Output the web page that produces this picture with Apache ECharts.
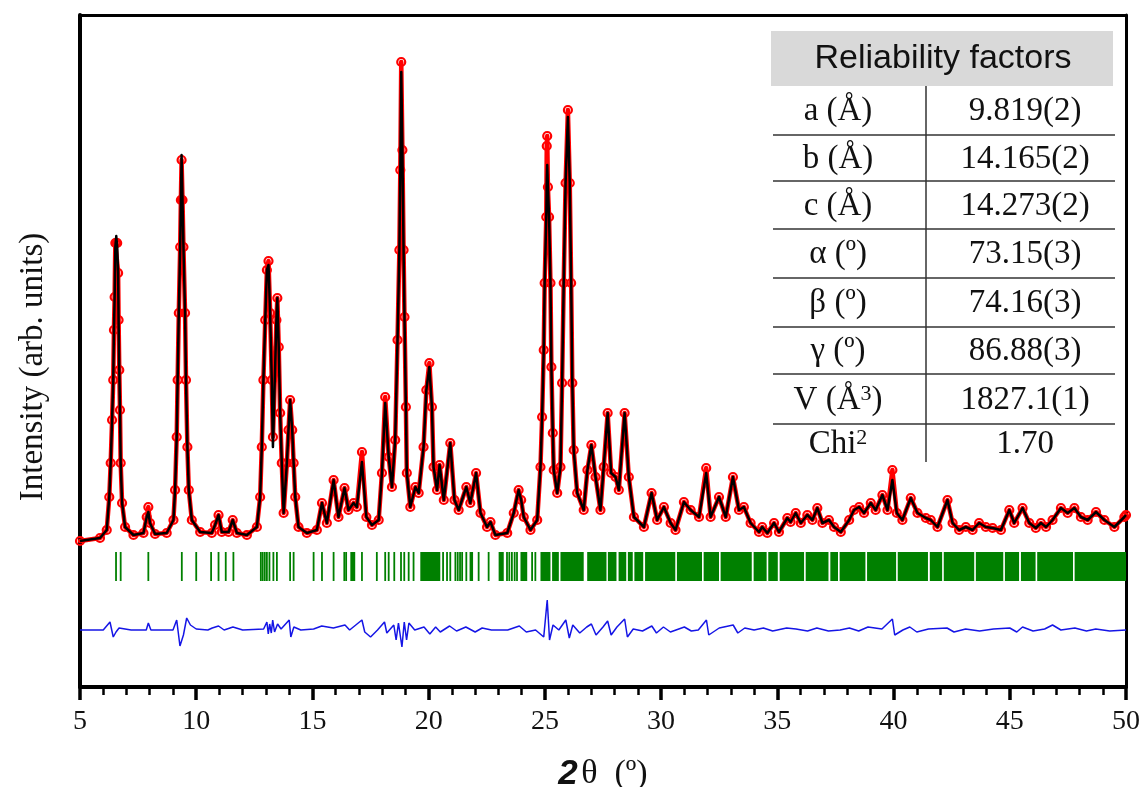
<!DOCTYPE html>
<html><head><meta charset="utf-8">
<script src="https://cdn.jsdelivr.net/npm/echarts@6/dist/echarts.min.js"></script>
<style>html,body{margin:0;padding:0;background:#fff}#c{width:1144px;height:787px}</style>
</head><body><div id="c"></div>
<script>
// ---- data (2theta in degrees, intensity in arb. units) ----
const twoTheta = [5.00,5.86,6.15,6.26,6.32,6.38,6.43,6.46,6.49,6.52,6.56,6.60,6.64,6.66,6.69,6.72,6.75,6.81,6.94,7.30,7.73,7.87,7.94,8.01,8.23,8.73,9.02,9.09,9.16,9.20,9.25,9.31,9.34,9.37,9.41,9.45,9.52,9.56,9.62,9.68,9.81,10.17,10.67,10.81,10.96,11.10,11.39,11.57,11.75,12.18,12.61,12.75,12.82,12.89,12.97,13.04,13.11,13.18,13.25,13.30,13.40,13.45,13.49,13.55,13.61,13.68,13.76,13.90,13.97,14.04,14.13,14.19,14.26,14.40,14.76,15.19,15.41,15.62,15.91,16.12,16.38,16.55,16.77,16.91,17.13,17.32,17.56,17.85,17.99,18.13,18.28,18.42,18.56,18.66,18.74,18.78,18.82,18.87,18.92,18.96,19.02,19.06,19.21,19.43,19.57,19.78,19.90,20.03,20.14,20.21,20.36,20.47,20.65,20.93,21.11,21.29,21.62,21.79,22.04,22.23,22.51,22.66,22.87,23.38,23.66,23.87,23.98,24.09,24.38,24.67,24.81,24.88,24.95,24.99,25.06,25.08,25.10,25.13,25.18,25.24,25.28,25.34,25.38,25.53,25.67,25.74,25.81,25.89,25.99,26.07,26.13,26.18,26.24,26.39,26.67,26.83,27.00,27.18,27.39,27.53,27.70,27.85,28.04,28.18,28.43,28.61,28.83,29.26,29.59,29.83,30.12,30.41,30.62,30.98,31.27,31.63,31.94,32.13,32.49,32.78,33.09,33.35,33.56,33.85,34.21,34.35,34.57,34.86,35.07,35.43,35.57,35.79,36.01,36.29,36.51,36.72,36.94,37.22,37.44,37.73,38.09,38.30,38.52,38.73,39.02,39.23,39.52,39.74,39.95,40.14,40.38,40.74,41.03,41.39,41.60,41.89,42.32,42.54,42.82,43.11,43.40,43.68,43.97,44.26,44.62,44.98,45.19,45.55,45.84,46.12,46.34,46.56,46.84,47.20,47.49,47.78,48.06,48.35,48.71,49.07,49.50,49.93,50.00];
const yObs = [146,149,157,190,224,267,307,357,390,444,444,444,414,367,317,277,224,184,160,152,154,170,180,164,153,154,167,197,250,307,374,440,487,527,487,440,374,307,240,197,167,155,154,162,172,155,155,167,154,152,160,190,240,307,367,417,426,374,307,250,324,367,389,340,274,224,174,224,257,287,257,224,190,160,154,157,184,164,207,170,199,177,184,180,235,170,162,167,214,290,230,200,247,347,437,517,625,537,437,370,280,214,180,200,194,240,297,324,280,220,197,222,187,244,187,177,200,184,214,174,160,165,152,154,174,197,187,170,157,167,220,270,337,404,470,541,551,500,470,404,320,254,217,194,220,304,404,504,577,504,404,304,237,194,177,217,242,210,177,220,274,214,210,197,274,210,170,160,194,167,180,164,157,185,177,170,219,170,190,170,210,177,180,164,155,160,154,164,155,169,165,174,164,172,167,179,164,167,160,155,167,177,180,174,184,177,192,177,217,174,167,189,174,169,167,160,187,164,157,160,157,164,160,159,157,177,164,179,164,159,164,160,167,179,174,179,170,167,175,167,160,170,172];
const yCalc = [146,149,157,190,224,267,307,357,390,440,451,440,414,367,317,277,224,184,160,152,154,170,175,164,153,154,167,197,250,307,374,440,487,532,487,440,374,307,240,197,167,155,154,162,172,155,155,167,154,152,160,190,240,307,367,417,422,374,307,240,324,367,389,340,274,224,174,224,257,287,257,224,190,160,154,157,184,164,207,170,199,177,184,180,225,170,162,167,214,284,230,200,247,347,437,517,615,537,437,370,280,214,180,200,194,240,297,320,280,220,197,222,187,244,187,177,200,184,214,174,160,165,152,154,174,197,187,170,157,167,220,270,337,404,470,505,522,500,470,404,320,254,217,194,220,304,404,504,570,504,404,304,237,194,177,217,242,210,177,220,274,214,210,197,274,210,170,160,194,167,180,164,157,185,177,170,214,170,190,170,210,177,180,164,155,160,154,164,155,169,165,174,164,172,167,179,164,167,160,155,167,177,180,174,184,177,192,177,207,174,167,189,174,169,167,160,187,164,157,160,157,164,160,159,157,177,164,179,164,159,164,160,167,179,174,179,170,167,175,167,160,170,172];
const diffTheta = [5.0,6.0,6.29,6.43,6.55,6.68,7.2,7.85,7.94,8.05,9.0,9.16,9.30,9.45,9.59,9.75,10.0,10.5,10.69,10.96,11.2,11.58,12.0,12.9,13.04,13.1,13.16,13.23,13.29,13.37,13.5,13.65,14.0,14.07,14.2,14.5,15.05,15.4,15.9,16.4,16.6,17.13,17.25,17.5,17.8,18.1,18.2,18.5,18.6,18.7,18.85,18.95,19.05,19.15,19.4,19.8,20.05,20.3,20.5,20.9,21.2,21.6,22.0,22.3,22.7,23.4,23.9,24.2,24.6,24.95,25.1,25.2,25.35,25.6,25.9,26.05,26.2,26.5,26.8,27.0,27.2,27.5,27.7,27.85,28.1,28.43,28.55,28.8,29.2,29.6,29.8,30.1,30.4,31.0,31.3,31.6,31.95,32.05,32.5,33.1,33.3,33.6,34.0,34.4,34.8,35.4,35.8,36.3,36.7,37.2,37.7,38.1,38.5,38.9,39.5,39.95,40.05,40.4,40.7,41.0,41.5,42.3,42.6,43.1,43.7,44.3,45.0,45.3,45.55,46.0,46.5,46.84,47.2,47.8,48.3,48.7,49.3,50.0];
const yDiff = [57,57,65,50,55,59,57,57,64,57,57,67,41,52,69,62,58,57,59,61,57,60,57,58,65,53,63,54,67,55,63,58,67,50,60,57,58,61,59,62,57,67,55,50,57,65,54,62,47,64,40,65,47,64,57,60,53,60,55,61,56,60,55,59,57,57,61,55,57,50,87,47,62,57,67,49,62,54,60,63,52,60,66,52,60,68,50,58,56,61,54,60,55,60,56,57,67,52,59,62,54,59,57,59,56,59,58,56,59,56,57,59,56,60,58,68,52,57,60,55,58,59,55,58,56,58,59,55,60,56,58,62,57,59,56,58,56,57];
const braggSingles = [6.55,6.75,7.94,9.38,10.00,10.64,10.96,11.27,11.60,12.78,12.86,12.95,13.04,13.15,13.32,13.47,14.04,14.19,15.05,15.41,15.91,16.37,16.45,17.13,17.77,18.13,18.28,18.52,18.81,18.95,19.14,19.35,20.62,20.79,20.93,21.15,21.25,21.35,21.44,21.62,22.15,22.58,23.37,23.47,23.58,23.70,23.80,24.45,24.59];
const braggBands = [[16.63,16.84],[19.64,20.50],[21.76,21.91],[23.01,23.23],[23.95,24.24],[24.81,25.24],[25.31,25.60],[25.67,26.67],[26.82,27.65],[27.71,28.08],[28.17,28.50],[28.57,28.78],[28.85,29.23],[29.31,30.61],[30.68,31.76],[31.83,32.49],[32.56,33.90],[33.98,34.54],[34.61,35.02],[35.10,36.15],[36.22,37.20],[37.28,37.61],[37.68,38.79],[38.86,40.11],[40.18,41.48],[41.56,42.09],[42.16,43.47],[43.54,44.72],[44.79,45.40],[45.48,46.11],[46.18,47.72],[47.79,50.0]];
const tableTitle = 'Reliability factors';
const tableLabels = ['a (Å)','b (Å)','c (Å)','α (º)','β (º)','γ (º)','V (Å{sup|3})','Chi{sup|2}'];
const tableValues = ['9.819(2)','14.165(2)','14.273(2)','73.15(3)','74.16(3)','86.88(3)','1827.1(1)','1.70'];

// ---- rendering ----
const SERIF = '"Liberation Serif", "Times New Roman", serif';
const SANS = '"Liberation Sans", Arial, sans-serif';
const TICK_TOP = 135, TICK_BOTTOM = 106;

const chart = echarts.init(document.getElementById('c'), null, {renderer: 'canvas'});
const obsData = twoTheta.map((x, i) => [x, yObs[i]]);
const calcData = twoTheta.map((x, i) => [x, yCalc[i]]);
const diffData = diffTheta.map((x, i) => [x, yDiff[i]]);
const braggData = braggSingles.map(x => [x, x]).concat(braggBands);

// table graphic
const rowEdges = [86,135,181,229,278,327,374,424,462];
const tbl = [];
tbl.push({type:'rect', z:100, shape:{x:771, y:31, width:342, height:55}, style:{fill:'#d9d9d9'}});
tbl.push({type:'text', z:101, x:943, y:59, style:{text:tableTitle, font:'34px ' + SANS, fill:'#111', align:'center', verticalAlign:'middle', textAlign:'center', textVerticalAlign:'middle'}});
tbl.push({type:'line', z:101, shape:{x1:926, y1:86, x2:926, y2:462}, style:{stroke:'#333', lineWidth:1.5}});
for (let i = 1; i < rowEdges.length - 1; i++) {
  tbl.push({type:'line', z:101, shape:{x1:773, y1:rowEdges[i], x2:1115, y2:rowEdges[i]}, style:{stroke:'#333', lineWidth:1.5}});
}
const rich = {sup: {fontSize: 22, fontFamily: SERIF, verticalAlign: 'top', fill: '#111'}};
for (let i = 0; i < tableLabels.length; i++) {
  const cy = (rowEdges[i] + rowEdges[i+1]) / 2 + 1;
  tbl.push({type:'text', z:101, x:838, y:cy, style:{text:tableLabels[i], fontSize:33, fontFamily:SERIF, fill:'#111', align:'center', verticalAlign:'middle', textAlign:'center', textVerticalAlign:'middle', rich: rich}});
  tbl.push({type:'text', z:101, x:1025, y:cy, style:{text:tableValues[i], fontSize:33, fontFamily:SERIF, fill:'#111', align:'center', verticalAlign:'middle', textAlign:'center', textVerticalAlign:'middle'}});
}
tbl.push({type:'text', z:101, x:33, y:367, rotation:Math.PI/2, style:{text:'Intensity (arb. units)', fontSize:33, fontFamily:SERIF, fill:'#111', align:'center', verticalAlign:'middle', textAlign:'center', textVerticalAlign:'middle'}});

chart.setOption({
  animation: false,
  backgroundColor: '#fff',
  grid: {left: 80, right: 18, top: 15, bottom: 100, containLabel: false, outerBoundsMode: 'none', show: false},
  xAxis: [{
    type: 'value', min: 5, max: 50, interval: 5, position: 'bottom',
    axisLine: {show: true, onZero: false, lineStyle: {color: '#000', width: 4}},
    axisTick: {show: true, inside: false, length: 13, lineStyle: {color: '#000', width: 3.5}},
    minorTick: {show: true, splitNumber: 5, length: 8, lineStyle: {color: '#000', width: 2.5}},
    splitLine: {show: false}, minorSplitLine: {show: false},
    axisLabel: {show: true, fontSize: 28, fontFamily: SERIF, color: '#111', margin: 21},
    name: '{b|2} {s|θ  (º)}', nameLocation: 'middle', nameGap: 70,
    nameTextStyle: {rich: {b: {fontSize: 35, fontFamily: SANS, fontWeight: 'bold', fontStyle: 'italic', color: '#111'}, s: {fontSize: 34, fontFamily: SERIF, color: '#111'}}}
  }, {
    type: 'value', min: 5, max: 50, position: 'top',
    axisLine: {show: true, onZero: false, lineStyle: {color: '#000', width: 3}},
    axisTick: {show: false}, axisLabel: {show: false}, splitLine: {show: false}
  }],
  yAxis: [{
    type: 'value', min: 0, max: 672, position: 'left',
    axisLine: {show: true, onZero: false, lineStyle: {color: '#000', width: 4}},
    axisTick: {show: false}, axisLabel: {show: false}, splitLine: {show: false}
  }, {
    type: 'value', min: 0, max: 672, position: 'right',
    axisLine: {show: true, onZero: false, lineStyle: {color: '#000', width: 3}},
    axisTick: {show: false}, axisLabel: {show: false}, splitLine: {show: false}
  }],
  series: [
    {
      name: 'Bragg', type: 'custom', z: 2, data: braggData,
      renderItem: function (params, api) {
        const p0 = api.coord([api.value(0), TICK_TOP]);
        const p1 = api.coord([api.value(1), TICK_BOTTOM]);
        const w = Math.max(p1[0] - p0[0], 1.8);
        const x = (p1[0] - p0[0]) < 1.8 ? p0[0] - 0.9 : p0[0];
        return {type: 'rect', shape: {x: x, y: p0[1], width: w, height: p1[1] - p0[1]}, style: {fill: '#008000'}};
      }
    },
    {
      name: 'Yobs', type: 'line', z: 3, data: obsData,
      symbol: 'circle', symbolSize: 8, showSymbol: true,
      itemStyle: {color: 'rgba(255,255,255,0)', borderColor: '#ff0000', borderWidth: 2.2},
      lineStyle: {color: '#ff0000', width: 4.5, join: 'round', cap: 'round'}
    },
    {
      name: 'Ycalc', type: 'line', z: 4, data: calcData, symbol: 'none',
      lineStyle: {color: '#000', width: 2.5, join: 'round'}
    },
    {
      name: 'Diff', type: 'line', z: 4, data: diffData, symbol: 'none',
      lineStyle: {color: '#1515e6', width: 1.5}
    }
  ],
  graphic: {elements: tbl}
});
</script>
</body></html>
